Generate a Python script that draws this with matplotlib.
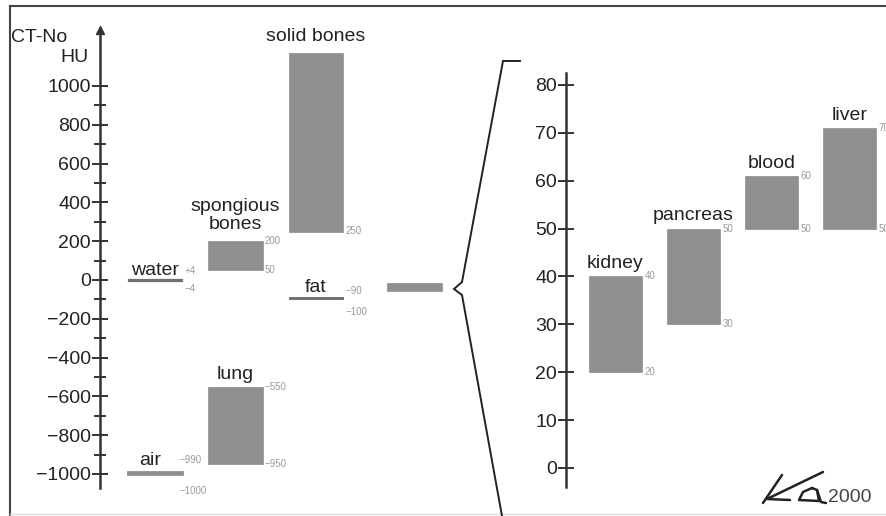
import numpy as np
import matplotlib
matplotlib.use("Agg")
import matplotlib.pyplot as plt
import matplotlib.lines as mlines

plt.rcParams['font.family'] = ['Liberation Sans', 'DejaVu Sans']

# left panel: full HU scale
left_names = ['water', 'air', 'spongious\nbones', 'lung', 'solid bones', 'fat', '']
left_col = [0, 0, 1, 1, 2, 2, 3.22]
left_low = [-4, -1000, 50, -950, 250, -100, -57]
left_high = [4, -990, 200, -550, 1170, -90, -15]
left_top_txt = ['+4', '\u2212990', '200', '\u2212550', '', '\u221290', '']
left_bot_txt = ['\u22124', '\u22121000', '50', '\u2212950', '250', '\u2212100', '']

# right panel: soft tissue zoom
right_names = ['kidney', 'pancreas', 'blood', 'liver']
right_low = [20, 30, 50, 50]
right_high = [40, 50, 61, 71]
right_top_txt = ['40', '50', '60', '70']
right_bot_txt = ['20', '30', '50', '50']

W, H = 886, 516
bar_grey = '#8f8f8f'
line_grey = '#707070'
axis_col = '#333333'
txt_col = '#222222'
small_col = '#9a9a9a'
fs = 14


def fx(px):
    return px / W


def fy(py):
    return 1 - py / H


fig = plt.figure(figsize=(W / 100, H / 100), dpi=100)


def style_axis(ax):
    for s in ['top', 'right', 'bottom']:
        ax.spines[s].set_visible(False)
    ax.spines['left'].set_color(axis_col)
    ax.spines['left'].set_linewidth(1.8)
    ax.set_xticks([])
    ax.tick_params(axis='y', which='major', direction='inout', length=11, width=1.4,
                   color=axis_col, labelsize=fs, labelcolor=txt_col, pad=1)
    ax.tick_params(axis='y', which='minor', direction='inout', length=9, width=1.4,
                   color=axis_col)
    ax.patch.set_alpha(0)


def put_labels(ax, x, w, low, high, name, ttop, tbot, dy_top=0, dy_bot=0, name_dy=3):
    if name:
        ax.annotate(name, (x, high), xytext=(0, name_dy), textcoords='offset points',
                    ha='center', va='bottom', fontsize=fs, color=txt_col,
                    linespacing=1.05, annotation_clip=False)
    if ttop:
        ax.annotate(ttop, (x + w / 2, high), xytext=(1.5, dy_top), textcoords='offset points',
                    ha='left', va='center', fontsize=7, color=small_col, annotation_clip=False)
    if tbot:
        ax.annotate(tbot, (x + w / 2, low), xytext=(1.5, dy_bot), textcoords='offset points',
                    ha='left', va='center', fontsize=7, color=small_col, annotation_clip=False)


# ---- left axes ----
lcol = 80.5
axl = fig.add_axes([fx(100), fy(488), fx(450) - fx(100), fy(30) - fy(488)])
axl.set_xlim((100 - 155) / lcol, (450 - 155) / lcol)
axl.set_ylim((280 - 488) / 0.194, (280 - 30) / 0.194)
style_axis(axl)
axl.set_yticks(np.arange(-1000, 1001, 200))
axl.set_yticks(np.arange(-900, 901, 200), minor=True)
axl.plot(0, 1, marker='^', ms=6, color=axis_col, transform=axl.transAxes, clip_on=False)

lw_bar = 0.68
heights = np.array(left_high) - np.array(left_low)
cols = [line_grey, bar_grey, bar_grey, bar_grey, bar_grey, line_grey, bar_grey]
elw = [0.9, 2.0, 0.5, 0.5, 0.5, 0.7, 0.5]
axl.bar(left_col, heights, bottom=left_low, width=lw_bar, color=cols,
        edgecolor=cols, linewidth=elw, clip_on=False)

dys = {0: (6, -6), 1: (9, -12), 5: (5, -9)}
name_dys = {0: 0, 1: 2, 2: 6, 3: 3, 4: 6, 5: 1}
for i, n in enumerate(left_names):
    dt, db = dys.get(i, (0, 0))
    xoff = -0.06 if i == 1 else 0
    put_labels(axl, left_col[i] + xoff, lw_bar, left_low[i], left_high[i], n,
               left_top_txt[i], left_bot_txt[i], dt, db, name_dys.get(i, 3))

fig.text(fx(11), fy(38), 'CT-No', ha='left', va='center', fontsize=fs, color=txt_col)
fig.text(fx(89), fy(58), 'HU', ha='right', va='center', fontsize=fs, color=txt_col)

# ---- right axes ----
rcol = 78
axr = fig.add_axes([fx(566), fy(487), 1 - fx(566), fy(73) - fy(487)])
axr.set_xlim((566 - 615.5) / rcol, (886 - 615.5) / rcol)
axr.set_ylim((468 - 487) / 4.79, (468 - 73) / 4.79)
style_axis(axr)
axr.set_yticks(np.arange(0, 81, 10))

rx = np.arange(len(right_names))
rw = 0.69
axr.bar(rx, np.array(right_high) - np.array(right_low), bottom=right_low, width=rw,
        color=bar_grey, edgecolor=bar_grey, linewidth=0.5)
for i, n in enumerate(right_names):
    put_labels(axr, rx[i], rw, right_low[i], right_high[i], n,
               right_top_txt[i], right_bot_txt[i], 0, 0, 3)

# ---- frame, brace, signature ----
def fline(xs, ys, **kw):
    fig.add_artist(mlines.Line2D([fx(v) for v in xs], [fy(v) for v in ys],
                                 transform=fig.transFigure, **kw))


fline([10, 886], [6, 6], color='#444444', lw=1.5)
fline([10, 10], [6, 516], color='#444444', lw=1.5)
fline([10, 886], [514, 514], color='#dddddd', lw=1)

fline([520, 503, 462, 454, 462, 502], [61, 61, 282, 289, 295, 516],
      color='#222222', lw=1.4, solid_joinstyle='miter')

sig = dict(color='#222222', lw=1.8, solid_capstyle='round', solid_joinstyle='round')
fline([782, 763], [475, 503], **sig)
fline([823, 767, 790], [472, 499, 500], **sig)
fline([812, 803, 799, 819, 817, 812], [488, 492, 500, 501, 490, 488], **sig)
fline([817, 821, 826], [490, 502, 503], **sig)
fig.text(fx(828), fy(497), '2000', ha='left', va='center', fontsize=fs, color='#444444')

fig.savefig('out.png', dpi=100)
